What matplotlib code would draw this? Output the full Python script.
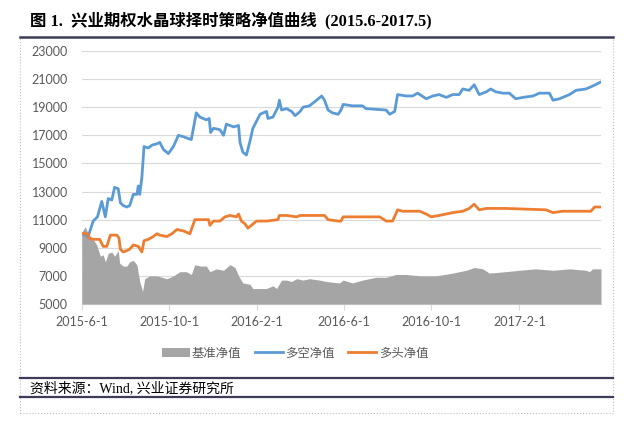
import pandas as pd
import matplotlib
matplotlib.use("Agg")
import matplotlib.pyplot as plt
from matplotlib.lines import Line2D
from matplotlib.patches import Patch, Rectangle

start = pd.Timestamp("2015-06-01")

# 基准净值 (days since 2015-6-1, value)
bench_days = [0, 5, 9, 16, 21, 26, 30, 33, 37, 42, 46, 51, 53, 58, 63, 67, 72, 77, 79, 81,
              85, 88, 95, 105, 119, 128, 137, 146, 153, 158, 165, 174, 179, 188, 198, 207,
              214, 219, 225, 235, 239, 249, 258, 267, 272, 279, 286, 293, 300, 309, 318,
              332, 341, 360, 365, 378, 392, 411, 425, 439, 453, 472, 495, 518, 537, 548,
              560, 569, 592, 611, 634, 658, 681, 704, 709, 713, 725]
bench_vals = [10100, 10500, 10000, 9600, 9200, 8400, 8500, 8000, 8600, 8700, 8400, 8800,
              7900, 7700, 7700, 8000, 8100, 7800, 7200, 6600, 5900, 6800, 7000, 7000, 6800,
              7000, 7300, 7300, 7100, 7800, 7700, 7700, 7300, 7500, 7400, 7800, 7600, 7000,
              6500, 6400, 6100, 6100, 6100, 6300, 6100, 6700, 6700, 6600, 6800, 6700, 6800,
              6700, 6600, 6500, 6700, 6500, 6700, 6900, 6900, 7100, 7100, 7000, 7000, 7200,
              7400, 7600, 7500, 7200, 7300, 7400, 7500, 7400, 7500, 7400, 7300, 7500, 7500]

# 多空净值
ls_days = [0, 9, 16, 22, 28, 33, 37, 42, 46, 51, 54, 58, 63, 67, 72, 77, 79, 81, 84, 87,
           93, 98, 105, 109, 114, 121, 128, 135, 142, 153, 160, 165, 174, 178, 180, 184,
           193, 198, 202, 212, 219, 221, 225, 230, 235, 239, 244, 249, 258, 260, 267, 274,
           276, 279, 286, 293, 298, 305, 309, 318, 328, 335, 339, 344, 350, 358, 362, 365,
           378, 392, 397, 425, 430, 437, 441, 453, 462, 469, 481, 490, 499, 509, 518, 527,
           532, 541, 548, 555, 565, 571, 578, 588, 597, 606, 616, 630, 639, 653, 658, 667,
           681, 690, 704, 713, 725]
ls_vals = [10000, 9800, 10900, 11200, 12300, 11200, 12500, 12400, 13300, 13200, 12200,
           12000, 11900, 12000, 12800, 12800, 13400, 12800, 14000, 16200, 16100, 16300,
           16400, 16500, 16000, 15700, 16200, 17000, 16900, 16700, 18600, 18300, 18100,
           18200, 17200, 17500, 17400, 17000, 17800, 17600, 17700, 16500, 15800, 15600,
           16600, 17500, 18000, 18500, 18700, 18200, 18300, 19000, 19500, 18800, 18900,
           18700, 18400, 18700, 19000, 19100, 19500, 19800, 19500, 18800, 18600, 18500,
           18800, 19200, 19100, 19100, 18900, 18800, 18500, 18700, 19900, 19800, 19800,
           20000, 19600, 19800, 19900, 19700, 19900, 19900, 20300, 20200, 20600, 19900,
           20100, 20300, 20100, 20000, 20000, 19600, 19700, 19800, 20000, 20000, 19500,
           19600, 19900, 20200, 20300, 20500, 20800]

# 多头净值
long_days = [0, 9, 10, 16, 25, 30, 35, 40, 44, 49, 52, 54, 58, 63, 67, 72, 79, 84, 87, 93,
             100, 105, 109, 119, 126, 133, 142, 151, 158, 165, 177, 179, 184, 193, 200, 207,
             216, 219, 223, 228, 232, 237, 244, 258, 274, 276, 286, 300, 305, 318, 332, 339,
             344, 358, 362, 365, 416, 425, 434, 441, 448, 472, 481, 488, 499, 518, 532, 541,
             548, 555, 565, 592, 648, 658, 671, 695, 711, 716, 725]
long_vals = [10000, 10000, 9700, 9600, 9600, 9100, 9100, 9900, 9900, 9900, 9700, 8900, 8700,
             8800, 8900, 9200, 9100, 8700, 9500, 9600, 9800, 10000, 9900, 9800, 10000, 10300,
             10200, 10000, 11000, 11000, 11000, 10600, 10900, 10900, 11200, 11300, 11200,
             11400, 10900, 10700, 10400, 10600, 10900, 10900, 11000, 11300, 11300, 11200,
             11300, 11300, 11300, 11300, 11000, 10900, 10900, 11200, 11200, 10900, 10900,
             11700, 11600, 11600, 11400, 11200, 11300, 11500, 11600, 11800, 12100, 11700,
             11800, 11800, 11700, 11500, 11600, 11600, 11600, 11900, 11900]

tick_dates = ["2015-06-01", "2015-10-01", "2016-02-01", "2016-06-01", "2016-10-01", "2017-02-01"]
tick_labels = ["2015-6-1", "2015-10-1", "2016-2-1", "2016-6-1", "2016-10-1", "2017-2-1"]
y_ticks = [5000, 7000, 9000, 11000, 13000, 15000, 17000, 19000, 21000, 23000]
series_names = ["基准净值", "多空净值", "多头净值"]


def to_dates(days):
    return start + pd.to_timedelta(days, unit="D")


W, H = 640, 434
fig = plt.figure(figsize=(6.4, 4.34), dpi=100)
fig.patch.set_facecolor("white")

ax = fig.add_axes([81.7 / W, 1 - 304 / H, (601 - 81.7) / W, (304 - 51) / H])

gray, blue, orange = "#A5A5A5", "#5B9BD5", "#ED7D31"
ax.fill_between(to_dates(bench_days), 5000, bench_vals, color=gray, lw=0, zorder=2)
ax.plot(to_dates(ls_days), ls_vals, color=blue, lw=2.0, zorder=3, solid_joinstyle="round")
ax.plot(to_dates(long_days), long_vals, color=orange, lw=2.0, zorder=3, solid_joinstyle="round")

ax.set_xlim(start, to_dates([725])[0])
ax.set_ylim(5000, 23000)
ax.set_yticks(y_ticks)
ax.set_xticks(pd.to_datetime(tick_dates))
ax.set_xticklabels(tick_labels)

ax.grid(axis="y", color="#D9D9D9", lw=0.8, zorder=0)
for s in ["top", "right", "left"]:
    ax.spines[s].set_visible(False)
ax.spines["bottom"].set_color("#D9D9D9")
ax.spines["bottom"].set_zorder(1)
ax.tick_params(axis="y", length=0, pad=10, labelsize=9, labelcolor="#595959")
ax.tick_params(axis="x", length=4, color="#D9D9D9", pad=5, labelsize=9, labelcolor="#595959")
for lab in ax.get_xticklabels() + ax.get_yticklabels():
    lab.set_fontfamily("Lato")

handles = [Patch(color=gray, lw=0),
           Line2D([], [], color=blue, lw=2.0),
           Line2D([], [], color=orange, lw=2.0)]
leg = fig.legend(handles, series_names, loc="center", ncol=3, frameon=False,
                 bbox_to_anchor=(295 / W, 1 - 353 / H), handlelength=2.25, handletextpad=0.2,
                 columnspacing=1.1,
                 prop={"family": ["Noto Sans CJK SC", "DejaVu Sans"], "size": 8.9})
for t in leg.get_texts():
    t.set_color("#595959")

fam = ["Liberation Serif", "Noto Sans CJK SC"]
fig.text(30 / W, 1 - 20 / H, "图 1.  兴业期权水晶球择时策略净值曲线  (2015.6-2017.5)",
         fontsize=11.8, fontweight="bold", family=fam, va="center", ha="left")
fig.text(30 / W, 1 - 388 / H, "资料来源：Wind, 兴业证券研究所",
         fontsize=10, family=fam, va="center", ha="left")

navy = "#3C3C5A"
for yy, lw in [(37, 1.8), (378, 1.6), (397, 1.6)]:
    fig.add_artist(Line2D([20 / W, 613 / W], [1 - yy / H, 1 - yy / H],
                          transform=fig.transFigure, color=navy, lw=lw))
fig.add_artist(Rectangle((20 / W, 1 - 413 / H), 593 / W, (413 - 37) / H,
                         transform=fig.transFigure, fill=False, ls=":",
                         ec="#BFBFBF", lw=0.8))

fig.savefig("out.png", dpi=100)
